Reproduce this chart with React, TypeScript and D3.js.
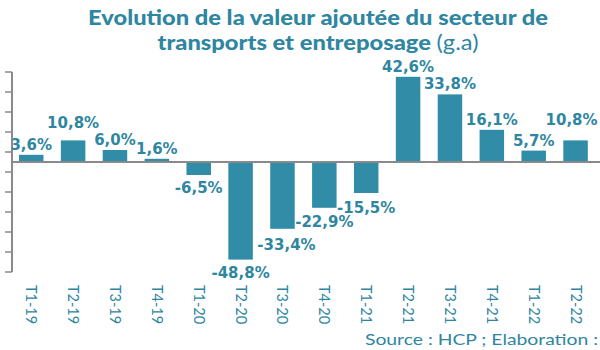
import * as d3 from 'd3';

const categories = [
  'T1-19', 'T2-19', 'T3-19', 'T4-19',
  'T1-20', 'T2-20', 'T3-20', 'T4-20',
  'T1-21', 'T2-21', 'T3-21', 'T4-21',
  'T1-22', 'T2-22',
];

const values = [3.6, 10.8, 6.0, 1.6, -6.5, -48.8, -33.4, -22.9, -15.5, 42.6, 33.8, 16.1, 5.7, 10.8];

// tick values of the left axis (Excel-style, starting at -55)
const yTicks = [-55, -45, -35, -25, -15, -5, 5, 15, 25, 35, 45];

// hand-placed label nudges from the original chart [dx, dy]
const labelNudge: Record<string, [number, number]> = {
  'T2-19': [0, -7],
  'T3-20': [4, 3.5],
  'T4-20': [0, 1.5],
  'T1-21': [0, 1.5],
  'T2-22': [-4, -10],
};

const TEAL = '#2f86a1';
const BAR = '#318ca8';
const GREY = '#8a8a8a';

const fmt = (v: number) => d3.format('.1f')(v).replace('.', ',').replace('−', '-') + '%';

export default function App() {
  const width = 600;
  const height = 350;

  const x = d3.scaleBand<string>()
    .domain(categories)
    .range([10.3, 596.5])
    .paddingInner(0.415)
    .paddingOuter(0.2075);

  const y = d3.scaleLinear().domain([-55, 45]).range([272, 72]);
  const axisX = 12;

  return (
    <svg
      width={width}
      height={height}
      style={{ position: 'absolute', left: 0, top: 0, background: '#fff' }}
    >
      {/* Title */}
      <text
        x={318}
        y={25}
        textAnchor="middle"
        fill={TEAL}
        style={{ fontFamily: 'Lato', fontWeight: 900, fontSize: 21 }}
        textLength={460}
        lengthAdjust="spacingAndGlyphs"
      >
        Evolution de la valeur ajoutée du secteur de
      </text>
      <text
        x={318}
        y={50}
        textAnchor="middle"
        fill={TEAL}
        style={{ fontFamily: 'Lato', fontSize: 21 }}
        textLength={321}
        lengthAdjust="spacingAndGlyphs"
      >
        <tspan fontWeight={900}>transports et entreposage </tspan>
        <tspan fontWeight={400}>(g.a)</tspan>
      </text>

      {/* Bars */}
      {categories.map((c, i) => {
        const v = values[i];
        const y0 = y(Math.max(0, v));
        const h = Math.abs(y(v) - y(0));
        return (
          <rect key={c} x={x(c)} y={y0} width={x.bandwidth()} height={h} fill={BAR} />
        );
      })}

      {/* Left axis */}
      <line x1={axisX} x2={axisX} y1={y(45)} y2={y(-55)} stroke={GREY} strokeWidth={2} />
      {yTicks.map((t) => (
        <line key={t} x1={axisX - 7} x2={axisX} y1={y(t)} y2={y(t)} stroke={GREY} strokeWidth={1.5} />
      ))}

      {/* Zero line */}
      <line x1={axisX} x2={width} y1={y(0)} y2={y(0)} stroke={GREY} strokeWidth={2} />

      {/* Value labels */}
      {categories.map((c, i) => {
        const v = values[i];
        const [dx, dy] = labelNudge[c] ?? [0, 0];
        const cx = (x(c) ?? 0) + x.bandwidth() / 2 + dx;
        const by = v >= 0 ? y(v) - 5 + dy : y(v) + 18 + dy;
        return (
          <text
            key={c}
            x={cx}
            y={by}
            textAnchor="middle"
            fill={TEAL}
            style={{ fontFamily: 'DejaVu Sans', fontWeight: 700, fontSize: 15 }}
          >
            {fmt(v)}
          </text>
        );
      })}

      {/* Category labels, rotated */}
      {categories.map((c) => {
        const cx = (x(c) ?? 0) + x.bandwidth() / 2;
        return (
          <text
            key={c}
            transform={`translate(${cx - 5},285) rotate(90)`}
            fill={TEAL}
            style={{ fontFamily: 'Lato', fontSize: 14.5 }}
          >
            {c}
          </text>
        );
      })}

      {/* Source */}
      <text
        x={365}
        y={345}
        fill={TEAL}
        style={{ fontFamily: 'Lato', fontSize: 15 }}
        textLength={233}
        lengthAdjust="spacingAndGlyphs"
      >
        Source : HCP ; Elaboration :
      </text>
    </svg>
  );
}
